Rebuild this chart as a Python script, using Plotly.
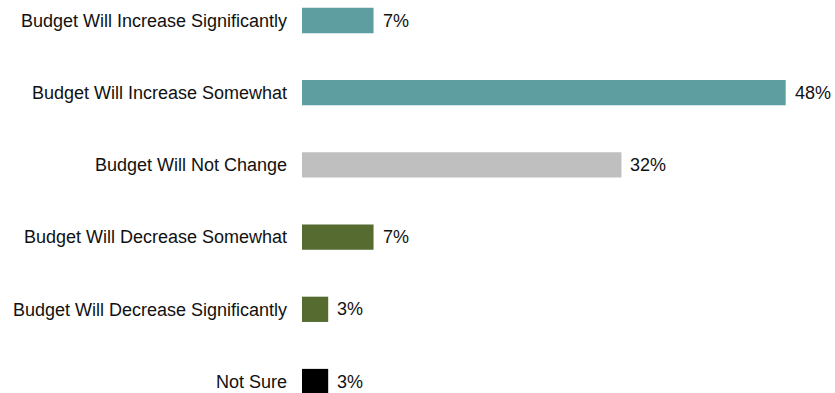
import plotly.graph_objects as go

categories = [
    "Budget Will Increase Significantly",
    "Budget Will Increase Somewhat",
    "Budget Will Not Change",
    "Budget Will Decrease Somewhat",
    "Budget Will Decrease Significantly",
    "Not Sure",
]
values = [7.1, 48.0, 31.7, 7.1, 2.6, 2.6]
labels = ["7%", "48%", "32%", "7%", "3%", "3%"]
colors = ["#5F9EA0", "#5F9EA0", "#BFBFBF", "#556B2F", "#556B2F", "#000000"]

FONT = "Liberation Sans, Arial, sans-serif"
TXT = "#111111"

fig = go.Figure()
fig.add_trace(go.Bar(
    x=values,
    y=categories,
    orientation="h",
    marker=dict(color=colors, line=dict(width=0)),
    width=0.35,
    hoverinfo="skip",
))

for v, c, t in zip(values, categories, labels):
    fig.add_annotation(
        x=v, y=c, text=t, showarrow=False,
        xanchor="left", yanchor="middle", xshift=7,
        font=dict(family=FONT, size=18, color=TXT),
    )

fig.update_layout(
    width=835, height=393,
    margin=dict(l=302, r=9, t=0, b=0),
    paper_bgcolor="white", plot_bgcolor="white",
    showlegend=False,
    font=dict(family=FONT, size=18, color=TXT),
    xaxis=dict(range=[0, 52], visible=False, showgrid=False, zeroline=False),
    yaxis=dict(
        categoryorder="array", categoryarray=categories,
        range=[5.159, -0.284],
        showgrid=False, zeroline=False, showline=False, ticks="",
        ticklabelstandoff=14,
        tickfont=dict(family=FONT, size=18, color=TXT),
    ),
)

fig.write_html("out.html")
